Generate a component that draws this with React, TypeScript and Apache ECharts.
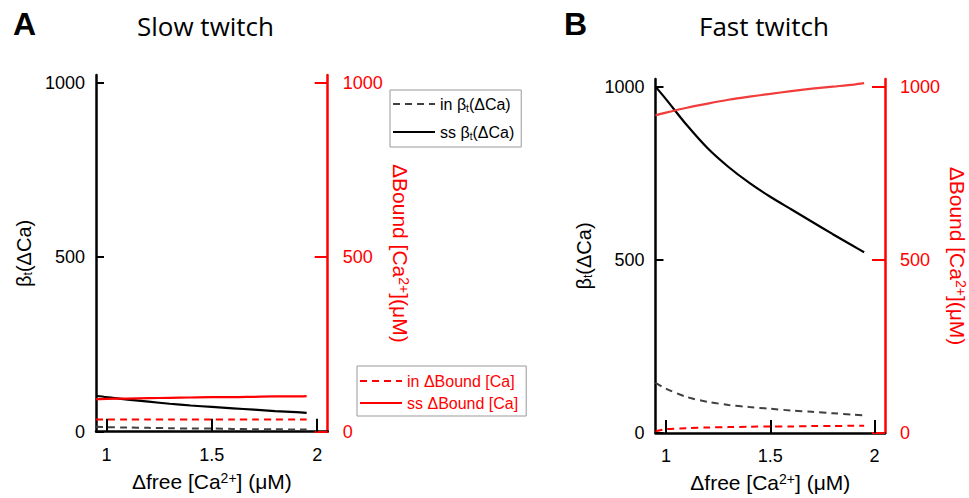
import React, { useEffect, useRef } from "react";
import * as echarts from "echarts";

// ---- data ----
const freeCa = [0.95, 1.0, 1.1, 1.2, 1.3, 1.4, 1.5, 1.6, 1.7, 1.8, 1.9, 1.95];

const slowInBeta = [14, 13, 12, 11, 10, 9, 9, 8, 7, 7, 6, 6];
const slowSsBeta = [103, 99, 92, 86, 80, 75, 71, 67, 63, 59, 56, 54];
const slowInBound = [35, 35, 35, 35, 35, 35, 35, 35, 35, 35, 35, 35];
const slowSsBound = [93, 94, 95, 96, 97, 98, 99, 99, 100, 101, 101, 102];

const fastInBeta = [145, 128, 104, 90, 81, 75, 70, 65, 61, 57, 53, 51];
const fastSsBeta = [1000, 964, 889, 822, 768, 722, 682, 646, 610, 574, 539, 522];
const fastInBound = [5, 11, 14, 16, 17, 18, 19, 19, 20, 20, 21, 21];
const fastSsBound = [917, 925, 939, 951, 962, 971, 979, 987, 994, 1000, 1006, 1010];

const xTicks = [1, 1.5, 2];
const yTicks = [0, 500, 1000];

const panelTitles = ["Slow twitch", "Fast twitch"];
const panelLetters = ["A", "B"];
const legendBeta = ["in βt(ΔCa)", "ss βt(ΔCa)"];
const legendBound = ["in ΔBound [Ca]", "ss ΔBound [Ca]"];

const FONT = "'Liberation Sans', Arial, sans-serif";
const RED = "#ff0000";

const pairs = (ys: number[]) => freeCa.map((x, i) => [x, ys[i]]);

export default function App() {
  const ref = useRef<HTMLDivElement>(null);
  useEffect(() => {
    if (!ref.current) return;
    const chart = echarts.init(ref.current, undefined, { renderer: "svg" });

    const grids = [
      { left: 96, top: 75, width: 231.7, height: 356.7 },
      { left: 655.5, top: 79, width: 229.5, height: 355.5 },
    ];

    const xAxes = grids.map((_, i) => ({
      type: "value",
      gridIndex: i,
      min: 0.95,
      max: 2.05,
      name: "Δfree [Ca{sup|2+}] (μM)",
      nameLocation: "middle",
      nameGap: 39,
      nameTextStyle: {
        fontSize: 21,
        fontFamily: FONT,
        color: "#000",
        rich: {
          sup: { fontSize: 14, fontFamily: FONT, color: "#000", verticalAlign: "top" },
        },
      },
      axisLine: { show: true, onZero: false, lineStyle: { color: "#000", width: 2.5 } },
      axisTick: { show: true, inside: true, length: 13, customValues: xTicks, lineStyle: { color: "#000", width: 2 } },
      axisLabel: {
        customValues: xTicks,
        fontSize: 18,
        fontFamily: FONT,
        color: "#000",
        margin: 14,
        formatter: (v: number) => String(v),
      },
      splitLine: { show: false },
    }));

    const yAxes: any[] = [];
    grids.forEach((_, i) => {
      yAxes.push({
        type: "value",
        gridIndex: i,
        position: "left",
        min: 0,
        max: 1022,
        name: "β{sub|t}(ΔCa)",
        nameLocation: "middle",
        nameRotate: 90,
        nameGap: 62,
        nameTextStyle: {
          fontSize: 20,
          fontFamily: FONT,
          color: "#000",
          rich: {
            sub: { fontSize: 12, fontFamily: FONT, color: "#000", verticalAlign: "bottom" },
          },
        },
        axisLine: { show: true, lineStyle: { color: "#000", width: 2.5 } },
        axisTick: { show: true, inside: true, length: 8, customValues: yTicks, lineStyle: { color: "#000", width: 2 } },
        axisLabel: {
          customValues: yTicks,
          fontSize: 18,
          fontFamily: FONT,
          color: "#000",
          margin: 11,
          formatter: (v: number) => String(v),
        },
        splitLine: { show: false },
      });
      yAxes.push({
        type: "value",
        gridIndex: i,
        position: "right",
        min: 0,
        max: 1022,
        name: "ΔBound [Ca{sup|2+}](μM)",
        nameLocation: "middle",
        nameRotate: -90,
        nameGap: 62,
        nameTextStyle: {
          fontSize: 21,
          fontFamily: FONT,
          color: RED,
          rich: {
            sup: { fontSize: 14, fontFamily: FONT, color: RED, verticalAlign: "top" },
          },
        },
        axisLine: { show: true, lineStyle: { color: RED, width: 2.5 } },
        axisTick: { show: true, inside: true, length: 13, customValues: yTicks, lineStyle: { color: RED, width: 2 } },
        axisLabel: {
          customValues: yTicks,
          fontSize: 18,
          fontFamily: FONT,
          color: RED,
          margin: 15,
          formatter: (v: number) => String(v),
        },
        splitLine: { show: false },
      });
    });

    const line = (
      name: string,
      grid: number,
      yIdx: number,
      ys: number[],
      color: string,
      dashed: boolean,
      width: number
    ) => ({
      type: "line",
      name,
      xAxisIndex: grid,
      yAxisIndex: yIdx,
      data: pairs(ys),
      symbol: "none",
      showSymbol: false,
      smooth: 0.3,
      clip: false,
      lineStyle: { color, width, type: dashed ? [7, 5] : "solid" },
      itemStyle: { color },
      z: 3,
    });

    const series = [
      line(legendBeta[0], 0, 0, slowInBeta, "#404040", true, 2),
      line(legendBeta[1], 0, 0, slowSsBeta, "#000", false, 2.2),
      line(legendBound[0], 0, 1, slowInBound, RED, true, 2),
      line(legendBound[1], 0, 1, slowSsBound, RED, false, 2.2),
      line("B " + legendBeta[0], 1, 2, fastInBeta, "#404040", true, 2),
      line("B " + legendBeta[1], 1, 2, fastSsBeta, "#000", false, 2.2),
      line("B " + legendBound[0], 1, 3, fastInBound, RED, true, 2),
      line("B " + legendBound[1], 1, 3, fastSsBound, "#f23b3b", false, 2.2),
    ];

    const subRich = (color: string) => ({
      sub: { fontSize: 10, fontFamily: FONT, color, verticalAlign: "bottom", lineHeight: 18 },
    });

    const hiddenSymbol = { color: "rgba(0,0,0,0)", borderWidth: 0, opacity: 0 };

    const legends = [
      {
        data: legendBeta,
        orient: "vertical",
        left: 390,
        top: 90,
        padding: [5, 7, 6, 2],
        itemWidth: 42,
        itemHeight: 14,
        itemGap: 10,
        itemStyle: hiddenSymbol,
        borderColor: "#999",
        borderWidth: 1,
        backgroundColor: "#fff",
        selectedMode: false,
        formatter: (n: string) => n.replace("βt", "β{sub|t}"),
        textStyle: { fontSize: 16, fontFamily: FONT, color: "#000", lineHeight: 18, rich: subRich("#000") },
      },
      {
        data: legendBound,
        orient: "vertical",
        left: 357,
        top: 366,
        padding: [6, 8, 4, 2],
        itemWidth: 42,
        itemHeight: 14,
        itemGap: 4,
        itemStyle: hiddenSymbol,
        borderColor: "#999",
        borderWidth: 1,
        backgroundColor: "#fff",
        selectedMode: false,
        textStyle: { fontSize: 16, fontFamily: FONT, color: RED, lineHeight: 18 },
      },
    ];

    const graphic = [
      { type: "text", x: 13, y: 24, style: { text: panelLetters[0], font: `bold 32px ${FONT}`, fill: "#000", verticalAlign: "middle" } },
      { type: "text", x: 137, y: 26, style: { text: panelTitles[0], font: `26px 'Open Sans', sans-serif`, fill: "#000", verticalAlign: "middle" } },
      { type: "text", x: 564, y: 24, style: { text: panelLetters[1], font: `bold 32px ${FONT}`, fill: "#000", verticalAlign: "middle" } },
      { type: "text", x: 699, y: 26, style: { text: panelTitles[1], font: `26px 'Open Sans', sans-serif`, fill: "#000", verticalAlign: "middle" } },
    ];

    chart.setOption({
      animation: false,
      backgroundColor: "#fff",
      grid: grids.map((g) => ({ ...g, containLabel: false })),
      xAxis: xAxes,
      yAxis: yAxes,
      legend: legends,
      series,
      graphic,
    });

    return () => chart.dispose();
  }, []);

  return (
    <div
      ref={ref}
      style={{ position: "fixed", left: 0, top: 0, width: 969, height: 498 }}
    />
  );
}
